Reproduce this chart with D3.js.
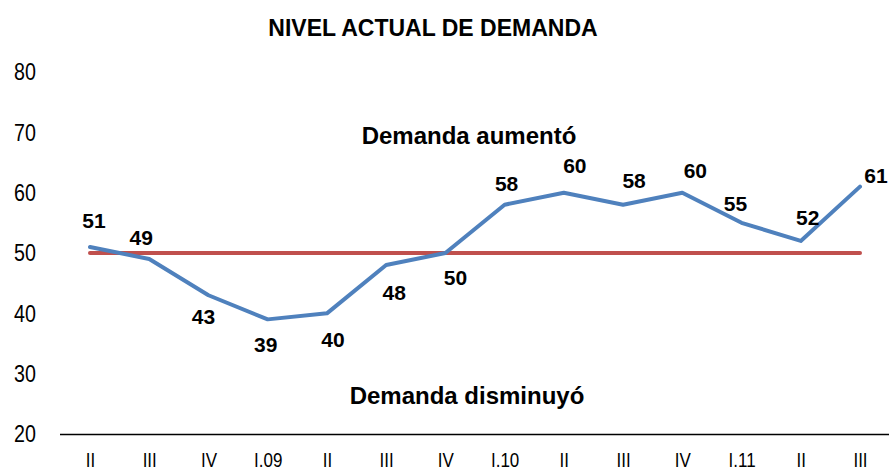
<!DOCTYPE html>
<html>
<head>
<meta charset="utf-8">
<script src="https://cdn.jsdelivr.net/npm/d3@7"></script>
<style>
    body { margin: 0; background: #fff; }
</style>
</head>
<body>
<svg></svg>
<script>
const quarters = ["II", "III", "IV", "I.09", "II", "III", "IV", "I.10", "II", "III", "IV", "I.11", "II", "III"];
const demanda = [51, 49, 43, 39, 40, 48, 50, 58, 60, 58, 60, 55, 52, 61];
const neutral = [50, 50, 50, 50, 50, 50, 50, 50, 50, 50, 50, 50, 50, 50];
const yTicks = [20, 30, 40, 50, 60, 70, 80];

// label nudges, pixels (layout only)
const labelDx = [4, -8, -5, -2, 6, 8, 10, 2, 11, 11, 13, -6, 7, 16];
const labelDy = [-19, -14, 29, 33, 34, 35, 32, -14, -20, -17, -15, -12, -16, -4];

const width = 889
const height = 473

const svg = d3.select("svg")
    .attr("width", width)
    .attr("height", height)
    .style("display", "block")

const x = d3.scalePoint()
    .domain(d3.range(quarters.length))
    .range([90, 860])

const y = d3.scaleLinear()
    .domain([20, 80])
    .range([434, 72])

// title
svg.append("text")
    .text("NIVEL ACTUAL DE DEMANDA")
    .attr("x", 433)
    .attr("y", 36)
    .attr("text-anchor", "middle")
    .style("font-family", "'Liberation Sans', Arial, sans-serif")
    .style("font-size", "23px")
    .style("font-weight", "bold")

// y axis, labels only (squeezed to look like a narrow face)
const leftAxis = svg.append("g")
    .attr("transform", "translate(36,0)")
    .call(d3.axisLeft(y).tickValues(yTicks).tickSize(0).tickPadding(0))
leftAxis.select(".domain").remove()
leftAxis.selectAll("text")
    .attr("transform", "scale(0.82,1)")
    .style("font-family", "'Liberation Sans', Arial, sans-serif")
    .style("font-size", "24px")
    .attr("fill", "#000")

// x axis
const bottomAxis = svg.append("g")
    .attr("transform", `translate(0, ${y(20)})`)
    .call(d3.axisBottom(x).tickFormat(i => quarters[i]).tickSize(0).tickPadding(19))
bottomAxis.select(".domain")
    .attr("d", `M60,0.5H${width}`)
    .attr("stroke", "#000")
    .attr("stroke-width", 1.5)
bottomAxis.selectAll("text")
    .attr("transform", "scale(0.85,1)")
    .style("font-family", "'Liberation Sans', Arial, sans-serif")
    .style("font-size", "20px")
    .attr("fill", "#000")

// annotations
svg.append("text")
    .text("Demanda aumentó")
    .attr("x", 469)
    .attr("y", y(68))
    .attr("text-anchor", "middle")
    .style("font-family", "'Liberation Sans', Arial, sans-serif")
    .style("font-size", "24px")
    .style("font-weight", "bold")

svg.append("text")
    .text("Demanda disminuyó")
    .attr("x", 467)
    .attr("y", y(25))
    .attr("text-anchor", "middle")
    .style("font-family", "'Liberation Sans', Arial, sans-serif")
    .style("font-size", "24px")
    .style("font-weight", "bold")

const line = d3.line()
    .x((d, i) => x(i))
    .y(d => y(d))

svg.append("path")
    .datum(neutral)
    .attr("d", line)
    .style("fill", "none")
    .style("stroke", "#C0504D")
    .style("stroke-width", "4")
    .style("stroke-linecap", "round")

svg.append("path")
    .datum(demanda)
    .attr("d", line)
    .style("fill", "none")
    .style("stroke", "#4F81BD")
    .style("stroke-width", "4")
    .style("stroke-linecap", "round")
    .style("stroke-linejoin", "round")

svg.append("g")
    .selectAll("text")
    .data(demanda)
    .join("text")
    .text(d => d)
    .attr("x", (d, i) => x(i) + labelDx[i])
    .attr("y", (d, i) => y(d) + labelDy[i])
    .attr("text-anchor", "middle")
    .style("font-family", "'Liberation Sans', Arial, sans-serif")
    .style("font-size", "21px")
    .style("font-weight", "bold")
</script>
</body>
</html>
